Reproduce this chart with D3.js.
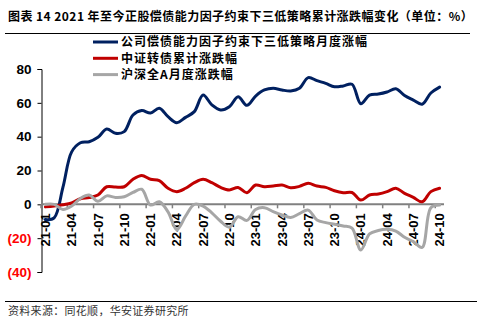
<!DOCTYPE html>
<html><head><meta charset="utf-8">
<script src="https://cdn.jsdelivr.net/npm/d3@7"></script>
<style>
body{margin:0;background:#fff;}
svg{display:block;}
</style></head>
<body>
<svg id="c" width="477" height="322"></svg>
<script>
const months = ["21-01","21-02","21-03","21-04","21-05","21-06","21-07","21-08","21-09","21-10","21-11","21-12",
"22-01","22-02","22-03","22-04","22-05","22-06","22-07","22-08","22-09","22-10","22-11","22-12",
"23-01","23-02","23-03","23-04","23-05","23-06","23-07","23-08","23-09","23-10","23-11","23-12",
"24-01","24-02","24-03","24-04","24-05","24-06","24-07","24-08","24-09","24-10"];
const tickLabels = ["21-01","21-04","21-07","21-10","22-01","22-04","22-07","22-10","23-01","23-04","23-07","23-10","24-01","24-04","24-07","24-10"];
const strategy = [-9,-8,10,31,36.4,37,39.6,44.5,42,43,52.8,55.4,54,56.8,51.8,48.3,51.4,54.8,64.6,58.8,55.8,57.7,63.6,58.5,64,67.6,68.6,67.6,67,68.6,74.9,73.1,71.5,69.5,70,71,59.5,64.6,65.2,66.4,68.3,64.3,61.6,59.2,65.8,69.3];
const convertible = [-1.5,-1,-0.3,0.8,3.3,4,5.5,10.4,10.2,10.4,14.8,17.1,14.8,14,9.5,7.5,9.5,12.8,14.8,12.8,10,8.5,10,6.9,11.4,10.4,10.8,11.4,9.8,10.6,12.4,10.8,10,8,6.9,7,2.5,5.5,6.1,7.5,9.5,6.5,4.1,1.5,7.5,9.5];
const allA = [0,0,-3,-1,3.5,5.5,1.8,5,4.1,4.5,7,8.9,-0.4,1.5,-4.5,-15,-7,0,-1,-5,-10,-13.5,-7.3,-9.5,-3,-2,-4.3,-6.3,-7.8,-5.5,-3.4,-9.3,-10.8,-11.8,-12.8,-14,-27,-17.5,-15.5,-14.8,-15.8,-19.5,-22,-25.5,-2,-0.4];
const yTicks = [80,60,40,20,0,-20,-40];
const seriesNames = ["公司偿债能力因子约束下三低策略月度涨幅","中证转债累计涨跌幅","沪深全A月度涨跌幅"];
const colors = ["#002060","#C00000","#A6A6A6"];

const svg = d3.select("#c");
const cjk = "'Noto Sans CJK SC','Noto Sans',sans-serif";
const arial = "'Liberation Sans',Arial,sans-serif";

// title
svg.append("text").attr("x",8).attr("y",21)
  .attr("font-family",cjk).attr("font-weight","bold").attr("font-size",12).attr("letter-spacing",0.45).attr("fill","#000")
  .text("图表 14 2021 年至今正股偿债能力因子约束下三低策略累计涨跌幅变化（单位：%）");
svg.append("line").attr("x1",5).attr("x2",470).attr("y1",33.5).attr("y2",33.5).attr("stroke","#000").attr("stroke-width",1.2);

const x = d3.scaleBand().domain(months).range([41,444]).padding(0);
const y = d3.scaleLinear().domain([-40,80]).range([272,69]);
const cx = d => x(d) + x.bandwidth()/2;

// y axis
const yAxis = d3.axisLeft(y).tickValues(yTicks).tickSize(4).tickFormat(d => d<0 ? "("+(-d)+")" : d);
const ya = svg.append("g").attr("transform","translate(41.5,0)").call(yAxis);
ya.select(".domain").attr("stroke","#000");
ya.selectAll(".tick line").attr("stroke","#000");
ya.selectAll(".tick text").attr("font-family",arial).attr("font-weight","bold").attr("font-size",13.5)
  .attr("x",-10).attr("fill",d => d<0 ? "#FF0000" : "#000");

// x axis at zero
const xAxis = d3.axisBottom(x).tickValues(tickLabels).tickSize(0).tickFormat(d=>d);
const xa = svg.append("g").attr("transform",`translate(0,${y(0)})`).call(xAxis);
xa.select(".domain").remove();
xa.selectAll(".tick text").attr("font-family",arial).attr("font-weight","bold").attr("font-size",13).attr("fill","#000")
  .attr("transform","rotate(-90)").attr("text-anchor","end").attr("x",-9).attr("y",0).attr("dy","0.36em");
svg.append("line").attr("x1",41).attr("x2",444).attr("y1",y(0)).attr("y2",y(0)).attr("stroke","#808080").attr("stroke-width",2);
svg.append("g").selectAll("line").data(tickLabels).join("line")
  .attr("x1",d=>x(d)).attr("x2",d=>x(d)).attr("y1",y(0)).attr("y2",y(0)+4)
  .attr("stroke","#808080").attr("stroke-width",1.5);

// lines
const line = d3.line().x((d,i)=>cx(months[i])).y(d=>y(d)).curve(d3.curveCatmullRom.alpha(0.5));
[strategy, convertible, allA].forEach((s,k)=>{
  svg.append("path").attr("d",line(s)).attr("fill","none").attr("stroke",colors[k])
    .attr("stroke-width",3).attr("stroke-linejoin","round").attr("stroke-linecap","round");
});

// legend
const lg = svg.append("g");
seriesNames.forEach((n,k)=>{
  const yy = 42 + k*16.3;
  lg.append("line").attr("x1",93).attr("x2",118).attr("y1",yy).attr("y2",yy).attr("stroke",colors[k]).attr("stroke-width",3);
  lg.append("text").attr("x",121).attr("y",yy).attr("dy","0.36em").attr("font-family",cjk).attr("font-weight","bold")
    .attr("font-size",12).attr("letter-spacing",1).attr("fill","#000").text(n);
});

// footer
svg.append("line").attr("x1",5).attr("x2",477).attr("y1",301.5).attr("y2",301.5).attr("stroke","#000").attr("stroke-width",1);
svg.append("text").attr("x",8).attr("y",311).attr("dy","0.36em").attr("font-family",cjk).attr("font-size",11)
  .attr("letter-spacing",0.3).attr("fill","#333")
  .text("资料来源：同花顺，华安证券研究所");
</script>
</body></html>
